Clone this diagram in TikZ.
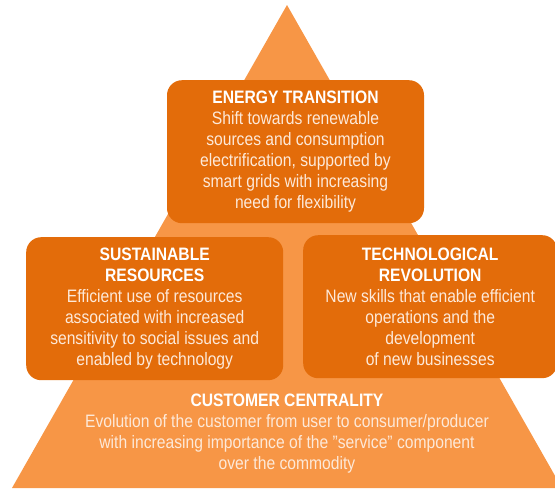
\documentclass[tikz,border=0pt]{standalone}
\usepackage{fontspec}
\setmainfont{Liberation Sans}[FakeStretch=0.87]
\usepackage{tikz}
\usetikzlibrary{calc}

\definecolor{baseorange}{HTML}{F79646}
\definecolor{boxorange}{HTML}{E36C0A}
\definecolor{bodytext}{HTML}{FDE9D9}

\tikzset{
  pillar/.style={fill=boxorange, rounded corners=15pt, minimum height=143pt,
    inner sep=0pt, align=center, text=bodytext, font=\fontsize{18}{21}\selectfont},
  head/.style={text=white, font=\bfseries},
}

\begin{document}
\begin{tikzpicture}[x=1pt,y=-1pt]
\useasboundingbox (0,0) rectangle (555,488);
\fill[baseorange] (287,5) coordinate (apex) -- (12,488) -- (562,488) -- cycle;
\node[pillar, minimum width=257pt, anchor=north] at (295.5,80) (energy) {\textcolor{white}{\bfseries ENERGY TRANSITION}\\
Shift towards renewable\\ sources and consumption\\ electrification, supported by\\ smart grids with increasing\\ need for flexibility};
\node[pillar, minimum width=257pt, anchor=north west] at (26,237) (sust) {\textcolor{white}{\bfseries SUSTAINABLE}\\ \textcolor{white}{\bfseries RESOURCES}\\
Efficient use of resources\\ associated with increased\\ sensitivity to social issues and\\ enabled by technology};
\node[pillar, minimum width=254pt, anchor=north west] at (303,235) (tech) {\textcolor{white}{\bfseries TECHNOLOGICAL}\\ \textcolor{white}{\bfseries REVOLUTION}\\
New skills that enable efficient\\ operations and the\\ development\\ of new businesses};
\node[align=center, text=bodytext, inner sep=0pt, font=\fontsize{18}{21}\selectfont] at (287,434) (cust) {\textcolor{white}{\bfseries CUSTOMER CENTRALITY}\\
Evolution of the customer from user to consumer/producer\\ with increasing importance of the "service" component\\ over the commodity};
\end{tikzpicture}
\end{document}
